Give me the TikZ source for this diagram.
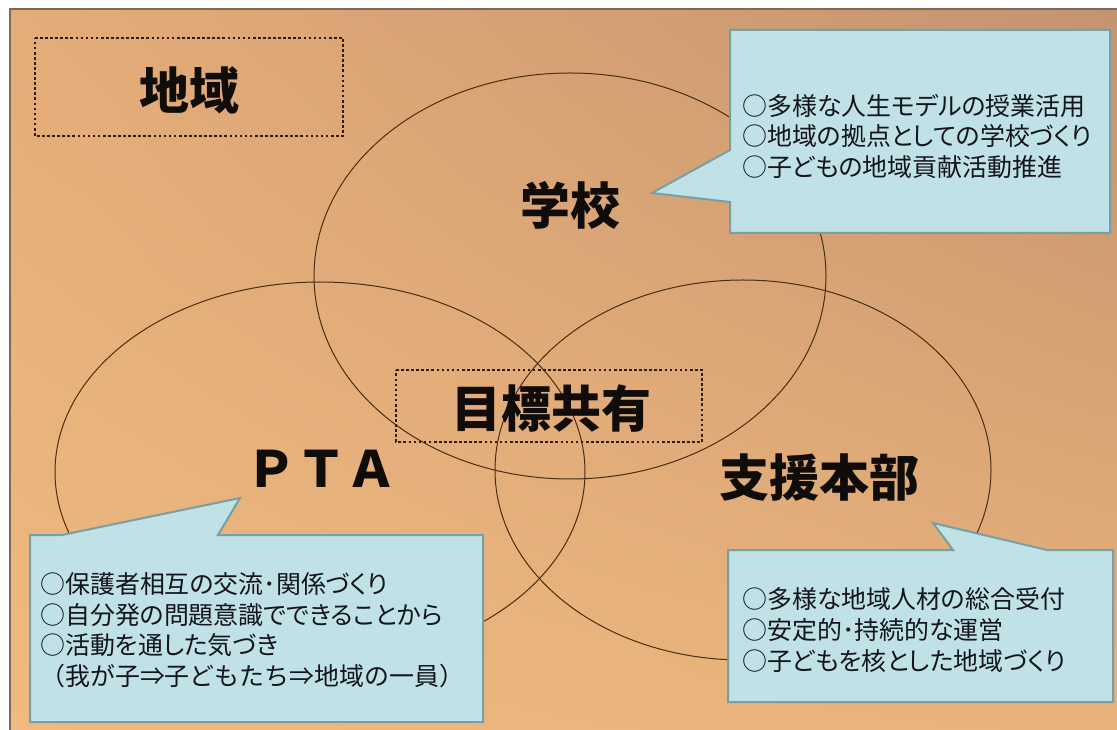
\documentclass[tikz,border=0pt]{standalone}
\usepackage{fontspec}
\newfontfamily\jp{Noto Sans CJK JP}
\newfontfamily\jpp[RawFeature=+palt]{Noto Sans CJK JP}
\usetikzlibrary{shadings}
\definecolor{bgUL}{RGB}{228,172,120}
\definecolor{bgUR}{RGB}{196,147,112}
\definecolor{bgLL}{RGB}{238,186,128}
\definecolor{bgLR}{RGB}{232,178,122}

\begin{document}
\begin{tikzpicture}[x=0.75pt,y=0.75pt,yscale=-1,xscale=1,
  ring/.style={draw={rgb, 255:red, 72; green, 46; blue, 20 },line width=0.75},
  dotbox/.style={draw={rgb, 255:red, 45; green, 28; blue, 12 },line width=2,dash pattern=on 2pt off 1.8pt},
  callout/.style={fill={rgb, 255:red, 192; green, 226; blue, 230 },draw={rgb, 255:red, 118; green, 160; blue, 166 },line width=1.5},
  lbl/.style={inner sep=0.75pt,text={rgb, 255:red, 15; green, 12; blue, 10 },font=\jp\bfseries\fontsize{37.5}{40}\selectfont},
  note/.style={anchor=west,inner sep=0pt,align=left,text={rgb, 255:red, 20; green, 20; blue, 30 },font=\jpp\fontsize{18.7}{22.9}\selectfont}]
\useasboundingbox (0,0) rectangle (1117,730);

%Shape: Rectangle [id:dp1207] 
\shade [upper left=bgUL,upper right=bgUR,lower left=bgLL,lower right=bgLR] (10,9) rectangle (1117,730);
%Straight Lines [id:da1208] 
\draw [color={rgb, 255:red, 125; green, 105; blue, 85 }  ,line width=1.5]  (10,730) -- (10,9) -- (1117,9) ;

%Shape: Ellipse [id:dp2201] 
\draw  [ring]  (570,276) ellipse [x radius=256, y radius=203] ;
%Shape: Ellipse [id:dp2202] 
\draw  [ring]  (320,472) ellipse [x radius=265, y radius=190] ;
%Shape: Ellipse [id:dp2203] 
\draw  [ring]  (743,470) ellipse [x radius=248, y radius=190] ;

%Shape: Rectangle [id:dp3301] 
\draw  [dotbox]  (35,38) -- (343,38) -- (343,136) -- (35,136) -- cycle ;
%Shape: Rectangle [id:dp3302] 
\draw  [dotbox]  (396,370) -- (702,370) -- (702,442) -- (396,442) -- cycle ;

%Shape: Callout [id:dp4401] 
\draw  [callout]  (730,30) -- (1110,30) -- (1110,233) -- (730,233) -- (730,202) -- (652,193) -- (730,150) -- cycle ;
%Shape: Callout [id:dp4402] 
\draw  [callout]  (30,535) -- (62,535) -- (240,498) -- (218,535) -- (483,535) -- (483,722) -- (30,722) -- cycle ;
%Shape: Callout [id:dp4403] 
\draw  [callout]  (728,550) -- (953,550) -- (933,523) -- (1047,550) -- (1113,550) -- (1113,702) -- (728,702) -- cycle ;


% Text Node
\draw (189,90) node (chiiki) [lbl] {地域};
% Text Node
\draw (570,205) node (gakko) [lbl] {学校};
% Text Node
\draw (551,409) node (mokuhyo) [lbl] {目標共有};
% Text Node
\draw (321,469) node (pta) [lbl] {ＰＴＡ};
% Text Node
\draw (819,478) node (shien) [lbl] {支援本部};
% Text Node
\draw (742,136) node (gakkoNote) [note] {○多様な人生モデルの授業活用\\○地域の拠点としての学校づくり\\○子どもの地域貢献活動推進};
% Text Node
\draw (40,630) node (ptaNote) [note] {○保護者相互の交流･関係づくり\\○自分発の問題意識でできることから\\○活動を通した気づき\\{\jp （我が子⇒子どもたち⇒地域の一員）}};
% Text Node
\draw (742,630) node (shienNote) [note] {○多様な地域人材の総合受付\\○安定的･持続的な運営\\○子どもを核とした地域づくり};

\end{tikzpicture}
\end{document}
